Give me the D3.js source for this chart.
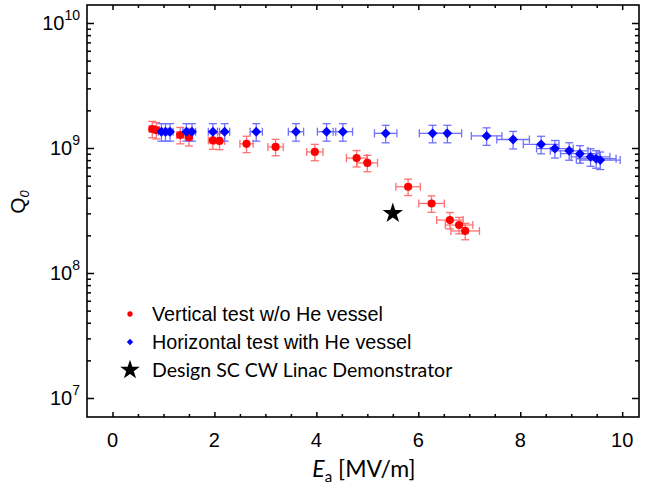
<!DOCTYPE html>
<html>
<head>
<meta charset="utf-8">
<script src="https://cdn.jsdelivr.net/npm/d3@7"></script>
<style>
  body { margin: 0; background: #fff; }
  svg { display: block; }
</style>
</head>
<body>
<svg id="chart" width="645" height="491" font-family="'Liberation Sans', Arial, sans-serif"></svg>
<script>
// vertical test w/o He vessel (red)
let redE    = [0.78, 0.86, 1.33, 1.50, 1.97, 2.10, 2.63, 3.20, 3.97, 4.79, 5.00, 5.80, 6.26, 6.62, 6.80, 6.92]
let redQ    = [1.42e9, 1.39e9, 1.27e9, 1.22e9, 1.15e9, 1.14e9, 1.08e9, 1.02e9, 0.93e9, 0.83e9, 0.76e9, 0.49e9, 0.36e9, 0.265e9, 0.242e9, 0.217e9]
let redEErr = [0.06, 0.06, 0.07, 0.07, 0.09, 0.1, 0.13, 0.15, 0.16, 0.2, 0.2, 0.24, 0.25, 0.26, 0.27, 0.28]
let redQErr = [0.15, 0.15, 0.15, 0.15, 0.15, 0.15, 0.15, 0.15, 0.15, 0.15, 0.15, 0.15, 0.15, 0.15, 0.15, 0.15]

// horizontal test with He vessel (blue)
let blueE    = [0.96, 1.04, 1.13, 1.45, 1.56, 1.97, 2.20, 2.82, 3.60, 4.20, 4.52, 5.36, 6.28, 6.57, 7.34, 7.86, 8.41, 8.68, 8.96, 9.17, 9.38, 9.49, 9.57]
let blueQ    = [1.35e9, 1.35e9, 1.35e9, 1.35e9, 1.35e9, 1.35e9, 1.35e9, 1.35e9, 1.35e9, 1.35e9, 1.35e9, 1.31e9, 1.31e9, 1.31e9, 1.25e9, 1.17e9, 1.07e9, 0.99e9, 0.95e9, 0.90e9, 0.85e9, 0.82e9, 0.80e9]
let blueEErr = [0.06, 0.06, 0.06, 0.07, 0.07, 0.09, 0.1, 0.12, 0.15, 0.18, 0.19, 0.22, 0.26, 0.28, 0.3, 0.32, 0.35, 0.36, 0.37, 0.38, 0.38, 0.39, 0.39]
let blueQErr = [0.16, 0.16, 0.16, 0.16, 0.16, 0.16, 0.16, 0.16, 0.16, 0.16, 0.16, 0.16, 0.16, 0.16, 0.16, 0.16, 0.16, 0.16, 0.16, 0.16, 0.16, 0.16, 0.16]

// design point
let designE = [5.5]
let designQ = [3.0e8]

let xMajor = [0, 2, 4, 6, 8, 10]
let xMinor = [0.5, 1, 1.5, 2.5, 3, 3.5, 4.5, 5, 5.5, 6.5, 7, 7.5, 8.5, 9, 9.5]
let yExp   = [7, 8, 9, 10]

let legendLabels = ["Vertical test w/o He vessel", "Horizontal test with He vessel", "Design SC CW Linac Demonstrator"]

let mLeft = 87, mRight = 639, mTop = 5, mBottom = 417
let arial = "'Liberation Sans', Arial, sans-serif"
let calibri = "Lato, 'Open Sans', sans-serif"

let svg = d3.select("#chart")

let x = d3.scaleLinear().domain([-0.5, 10.33]).range([mLeft, mRight])
let y = d3.scaleLog().domain([Math.pow(10, 6.848), Math.pow(10, 10.144)]).range([mBottom, mTop])

let yMinor = []
for (let e of yExp) {
    for (let m = 2; m <= 9; m++) {
        let v = m * Math.pow(10, e)
        if (v < y.domain()[1]) yMinor.push(v)
    }
}

// axes, ticks pointing inward on all four sides
function tickAxis(axis, ticks, size, transform) {
    let g = svg.append("g")
        .attr("transform", transform)
        .call(axis.tickValues(ticks).tickSize(size).tickFormat(""))
    g.select(".domain").remove()
    g.selectAll("line").attr("stroke", "#000").attr("stroke-width", 1.5)
}

tickAxis(d3.axisBottom(x), xMajor, -5, "translate(0," + mBottom + ")")
tickAxis(d3.axisBottom(x), xMinor, -3, "translate(0," + mBottom + ")")
tickAxis(d3.axisTop(x), xMajor, -5, "translate(0," + mTop + ")")
tickAxis(d3.axisTop(x), xMinor, -3, "translate(0," + mTop + ")")

let yMaj = yExp.map(e => Math.pow(10, e))
tickAxis(d3.axisLeft(y), yMaj, -7, "translate(" + mLeft + ",0)")
tickAxis(d3.axisLeft(y), yMinor, -4, "translate(" + mLeft + ",0)")
tickAxis(d3.axisRight(y), yMaj, -7, "translate(" + mRight + ",0)")
tickAxis(d3.axisRight(y), yMinor, -4, "translate(" + mRight + ",0)")

svg.append("rect")
    .attr("x", mLeft).attr("y", mTop)
    .attr("width", mRight - mLeft).attr("height", mBottom - mTop)
    .attr("fill", "none").attr("stroke", "#000").attr("stroke-width", 1.6)

// tick labels
svg.selectAll(".xlab").data(xMajor).enter()
    .append("text")
    .attr("x", d => x(d)).attr("y", 447)
    .attr("text-anchor", "middle")
    .attr("font-family", arial)
    .attr("font-size", 20)
    .text(d => d)

let ylab = svg.selectAll(".ylab").data(yExp).enter()
    .append("text")
    .attr("x", 80).attr("y", d => y(Math.pow(10, d)) + 7)
    .attr("text-anchor", "end")
    .attr("font-family", arial)
    .attr("font-size", 20)
ylab.append("tspan").text("10")
ylab.append("tspan").attr("dy", -10).attr("font-size", 14).text(d => d)

// axis titles
let xt = svg.append("text")
    .attr("x", 364).attr("y", 477)
    .attr("text-anchor", "middle")
    .attr("font-family", calibri)
    .attr("font-size", 23)
xt.append("tspan").attr("font-style", "italic").text("E")
xt.append("tspan").attr("dy", 5).attr("font-size", 15).text("a")
xt.append("tspan").attr("dy", -5).text(" [MV/m]")

let yt = svg.append("text")
    .attr("transform", "translate(25,202) rotate(-90)")
    .attr("text-anchor", "middle")
    .attr("font-family", arial)
    .attr("font-size", 21)
yt.append("tspan").text("Q")
yt.append("tspan").attr("dy", 4).attr("font-size", 13).attr("font-style", "italic").text("0")

// error bars + markers
function errorBars(E, Q, eErr, qErr, color) {
    let g = svg.append("g").attr("stroke", color).attr("stroke-width", 1.3).attr("fill", "none")
    E.forEach((e, i) => {
        let cx = x(e), cy = y(Q[i])
        let x0 = x(e - eErr[i]), x1 = x(e + eErr[i])
        let y0 = y(Q[i] * (1 + qErr[i])), y1 = y(Q[i] * (1 - qErr[i]))
        g.append("line").attr("x1", x0).attr("x2", x1).attr("y1", cy).attr("y2", cy)
        g.append("line").attr("x1", x0).attr("x2", x0).attr("y1", cy - 4).attr("y2", cy + 4)
        g.append("line").attr("x1", x1).attr("x2", x1).attr("y1", cy - 4).attr("y2", cy + 4)
        g.append("line").attr("x1", cx).attr("x2", cx).attr("y1", y0).attr("y2", y1)
        g.append("line").attr("x1", cx - 4).attr("x2", cx + 4).attr("y1", y0).attr("y2", y0)
        g.append("line").attr("x1", cx - 4).attr("x2", cx + 4).attr("y1", y1).attr("y2", y1)
    })
}

errorBars(redE, redQ, redEErr, redQErr, "#ff7070")
errorBars(blueE, blueQ, blueEErr, blueQErr, "#7070ff")

let circle = d3.symbol().type(d3.symbolCircle).size(52)
let diamond = d3.symbol().type(d3.symbolDiamond2).size(62)
let star = d3.symbol().type(d3.symbolStar).size(130)

svg.selectAll(".red").data(redE).enter()
    .append("path")
    .attr("d", circle)
    .attr("transform", (d, i) => "translate(" + x(d) + "," + y(redQ[i]) + ")")
    .attr("fill", "#ff0000")

svg.selectAll(".blue").data(blueE).enter()
    .append("path")
    .attr("d", diamond)
    .attr("transform", (d, i) => "translate(" + x(d) + "," + y(blueQ[i]) + ")")
    .attr("fill", "#0000ff")

svg.selectAll(".star").data(designE).enter()
    .append("path")
    .attr("d", star)
    .attr("transform", (d, i) => "translate(" + x(d) + "," + y(designQ[i]) + ")")
    .attr("fill", "#000")

// legend
let legendSym = [d3.symbol().type(d3.symbolCircle).size(22), d3.symbol().type(d3.symbolDiamond2).size(26), d3.symbol().type(d3.symbolStar).size(120)]
let legendCol = ["#ff0000", "#0000ff", "#000"]
let legendY = [314, 342, 370]

legendLabels.forEach((lab, i) => {
    svg.append("path")
        .attr("d", legendSym[i])
        .attr("transform", "translate(130," + legendY[i] + ")")
        .attr("fill", legendCol[i])
    svg.append("text")
        .attr("x", 152).attr("y", legendY[i] + 7)
        .attr("font-family", i == 2 ? calibri : arial)
        .attr("font-size", i == 2 ? 19.5 : 19.8)
        .text(lab)
})
</script>
</body>
</html>
